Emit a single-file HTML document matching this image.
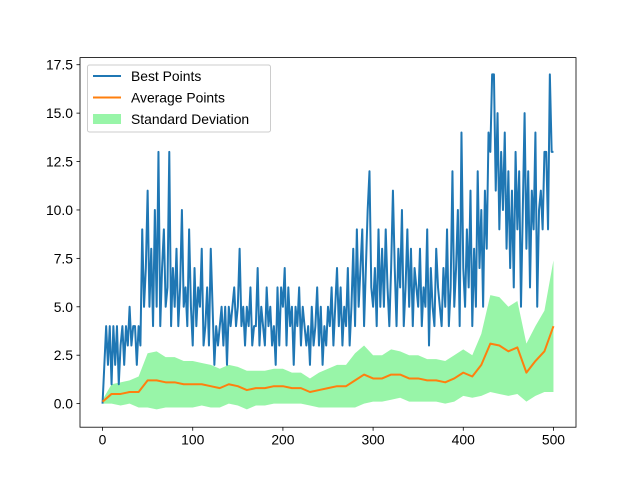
<!DOCTYPE html>
<html><head><meta charset="utf-8"><style>
body{margin:0;background:#fff;}
svg text{font-family:"Liberation Sans","DejaVu Sans",sans-serif;font-size:13.9px;fill:#000;}
</style></head><body>
<svg id="chart" width="640" height="480" xmlns="http://www.w3.org/2000/svg">
<rect width="640" height="480" fill="#fff"/>
<g id="plot"></g>
</svg>
<script>
const bestPoints = [0,2,4,2,4,1,4,2,4,1,3,4,2,4,3,5,3,4,4,2,4,
3,9,5,7,11,5,8,4,10,5,13,4,7,9,5,6,13,4,7,5,8,4,6,10,5,6,4,9,5,3,
7,4,6,5,8,3,4,6,3,8,5,2,4,3,4,5,3,5,2,5,4,5,6,4,5,
8,4,5,3,5,4,6,3,4,4,7,3,5,4,3,6,4,5,3,4,2,6,3,6,5,
7,3,6,4,5,2,5,4,6,3,5,4,3,4,2,5,3,4,6,3,5,2,4,3,5,
4,6,3,5,7,4,6,3,5,4,7,3,5,8,4,9,5,7,9,4,7,10,12,6,5,
7,4,9,5,8,5,9,6,4,7,11,7,4,8,6,10,4,6,9,5,8,4,7,6,5,
8,4,6,5,9,3,7,5,4,8,6,5,4,7,5,9,4,6,12,5,7,10,4,14,7,
5,9,6,11,4,8,5,12,7,10,5,11,8,14,13,17,17,11,15,9,13,10,14,8,12,
7,11,6,13,9,12,5,10,15,8,12,6,11,9,14,5,10,11,9,13,13,9,17,13,13];
const avgPoints = [0.1,0.5,0.5,0.6,0.6,1.2,1.2,1.1,1.1,1.0,1.0,1.0,0.9,0.8,1.0,0.9,0.7,0.8,0.8,0.9,0.9,0.8,0.8,0.6,0.7,0.8,0.9,0.9,1.2,1.5,1.3,1.3,1.5,1.5,1.3,1.3,1.2,1.2,1.1,1.3,1.6,1.4,2.0,3.1,3.0,2.7,2.9,1.6,2.2,2.7,4.0];
const stdPoints = [0.1,0.5,0.6,0.6,0.8,1.4,1.5,1.3,1.3,1.2,1.2,1.1,1.1,1.0,1.0,1.0,1.0,0.9,0.9,0.9,0.9,0.8,0.8,0.7,0.9,1.0,1.1,1.1,1.4,1.5,1.2,1.2,1.3,1.2,1.2,1.2,1.1,1.1,1.1,1.2,1.2,1.1,1.6,2.5,2.5,2.3,2.4,1.5,1.8,2.1,3.4];
const xTicks = [0,100,200,300,400,500];
const yTicks = [0,2.5,5,7.5,10,12.5,15,17.5];
const yTickLabels = ["0.0","2.5","5.0","7.5","10.0","12.5","15.0","17.5"];
const bestStep = 2, avgStep = 10;

const L=80,R=576,T=57.6,B=427.2, xMin=-25,xMax=525,yMin=-1.2175,yMax=17.8675;
const X=v=>L+(v-xMin)/(xMax-xMin)*(R-L);
const Y=v=>B-(v-yMin)/(yMax-yMin)*(B-T);
const NS="http://www.w3.org/2000/svg", g=document.getElementById('plot');
function mk(tag,attrs,parent){const e=document.createElementNS(NS,tag);for(const k in attrs)e.setAttribute(k,attrs[k]);(parent||g).appendChild(e);return e;}

let up=[],lo=[];
avgPoints.forEach((a,i)=>{up.push(X(i*avgStep)+','+Y(a+stdPoints[i]));lo.unshift(X(i*avgStep)+','+Y(a-stdPoints[i]));});
let band=mk('polygon',{points:up.concat(lo).join(' '),fill:'#98f5a8',stroke:'none'});


let best=mk('polyline',{points:bestPoints.map((v,i)=>X(i*bestStep)+','+Y(v)).join(' '),fill:'none',stroke:'#1f77b4','stroke-width':2,'stroke-linejoin':'round'});


let avg=mk('polyline',{points:avgPoints.map((v,i)=>X(i*avgStep)+','+Y(v)).join(' '),fill:'none',stroke:'#ff7f0e','stroke-width':2,'stroke-linejoin':'round'});



let frame=mk('rect',{x:L,y:T,width:R-L,height:B-T,fill:'none',stroke:'#000','stroke-width':0.8});


xTicks.forEach(t=>{
  mk('line',{x1:X(t),x2:X(t),y1:B,y2:B+3.5,stroke:'#000','stroke-width':0.8});
  let tx=mk('text',{x:X(t),y:B+17.5,'text-anchor':'middle'});tx.textContent=t;
  
  
});
yTicks.forEach((t,i)=>{
  mk('line',{x1:L-3.5,x2:L,y1:Y(t),y2:Y(t),stroke:'#000','stroke-width':0.8});
  let tx=mk('text',{x:L-7,y:Y(t)+5,'text-anchor':'end'});tx.textContent=yTickLabels[i];
  
  
});

const lg=mk('g',{});


mk('rect',{x:87.5,y:65,width:183,height:67,rx:2,fill:'#fff','fill-opacity':0.8,stroke:'#ccc','stroke-width':1},lg);
const entries=[['Best Points','#1f77b4','line'],['Average Points','#ff7f0e','line'],['Standard Deviation','#98f5a8','box']];
entries.forEach((e,i)=>{
  const cy=76+i*21.5;
  if(e[2]==='line') mk('line',{x1:93,x2:121,y1:cy,y2:cy,stroke:e[1],'stroke-width':2},lg);
  else mk('rect',{x:93,y:cy-5,width:28,height:10,fill:e[1]},lg);
  const t=mk('text',{x:131,y:cy+5},lg);t.textContent=e[0];
  
  
});
</script>
</body></html>
